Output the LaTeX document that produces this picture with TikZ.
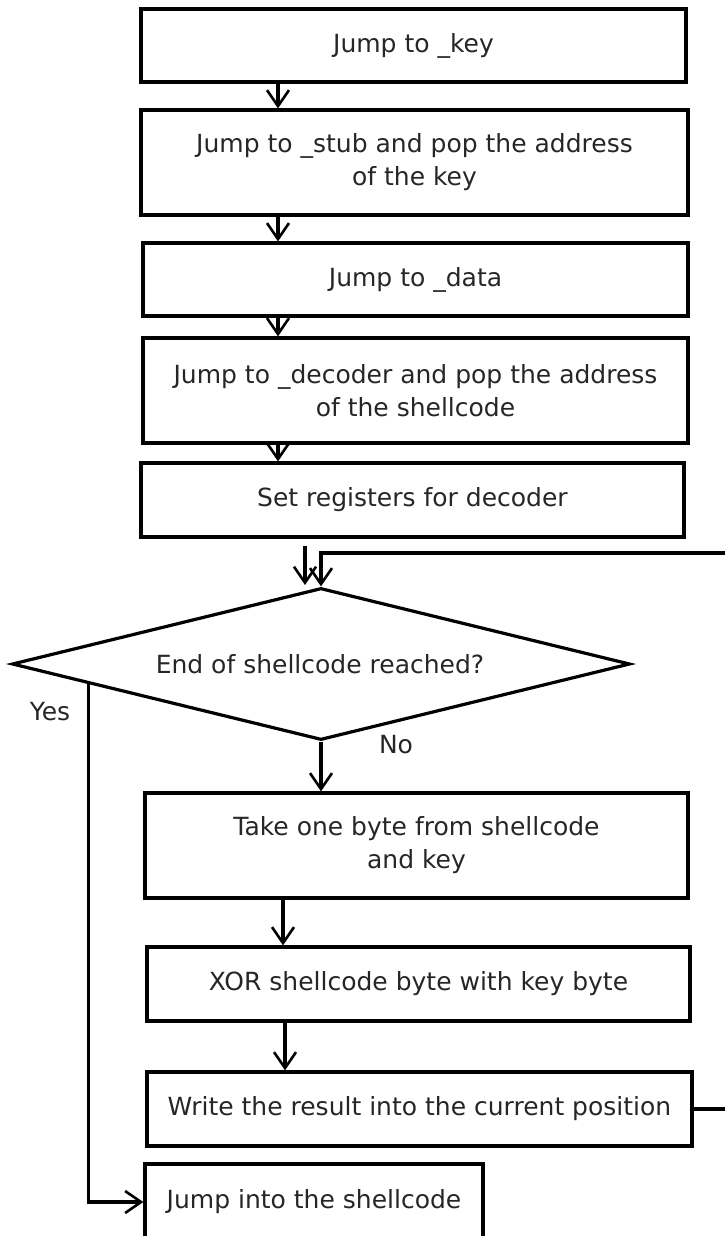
\documentclass[tikz,border=0pt]{standalone}
\usepackage{fontspec}
\setmainfont{DejaVu Sans}
\usetikzlibrary{arrows.meta,shapes.geometric,calc}

\tikzset{
  flowline/.style={line width=3.2pt, line join=miter},
  arr/.style={flowline, -{Straight Barb[length=16pt,width=22pt,line width=2.6pt]}},
  txt/.style={font=\fontsize{25}{33}\selectfont, text=black!85},
  stepbox/.style={draw, flowline, txt, rectangle, inner sep=0pt, align=center},
  decision/.style={draw, flowline, txt, diamond, inner sep=0pt, aspect=4.07},
}

\begin{document}
\begin{tikzpicture}[x=1pt, y=-1pt]
  \useasboundingbox (0,0) rectangle (725,1236);
  \clip (0,0) rectangle (725,1236);

  % process steps
  \node[stepbox, minimum width=545pt, minimum height=73pt]  (b1) at (413.5,45.5) {Jump to \_key};
  \node[stepbox, minimum width=547pt, minimum height=105pt] (b2) at (414.5,162.5)
    {Jump to \_stub and pop the address\\of the key};
  \node[stepbox, minimum width=545pt, minimum height=73pt]  (b3) at (415.5,279.5) {Jump to \_data};
  \node[stepbox, minimum width=545pt, minimum height=105pt] (b4) at (415.5,390.5)
    {Jump to \_decoder and pop the address\\of the shellcode};
  \node[stepbox, minimum width=543pt, minimum height=74pt]  (b5) at (412.5,500) {Set registers for decoder};

  % loop test
  \node[decision, minimum width=618pt, minimum height=152pt] (dia) at (321,664) {};
  \node[txt] (diatext) at (320,664) {End of shellcode reached?};

  % loop body
  \node[stepbox, minimum width=543pt, minimum height=105pt] (b6) at (416.5,845.5)
    {Take one byte from shellcode\\and key};
  \node[stepbox, minimum width=543pt, minimum height=74pt]  (b7) at (418.5,984) {XOR shellcode byte with key byte};
  \node[stepbox, minimum width=545pt, minimum height=74pt]  (b8) at (419.5,1109) {Write the result into the current position};
  \node[stepbox, minimum width=338pt, minimum height=76pt]  (b9) at (314,1202) {Jump into the shellcode};

  % branch labels
  \node[txt] (yeslbl) at (50,712) {Yes};
  \node[txt] (nolbl)  at (396,745) {No};

  % helper coordinates
  \coordinate (ax) at (278,0);
  \coordinate (s5) at (305,546);
  \coordinate (e5) at (305,585);
  \coordinate (loopR) at (745,553);
  \coordinate (yes) at ($(dia.west)!0.252!(dia.south)$);

  % straight sequence
  \draw[arr] (b1.south -| ax) -- (b2.north -| ax);
  \draw[arr] (b2.south -| ax) -- (b3.north -| ax);
  \draw[arr] (b3.south -| ax) -- (b4.north -| ax);
  \draw[arr] (b4.south -| ax) -- (b5.north -| ax);
  \draw[arr] (s5) -- (e5);

  % "No" branch and loop body
  \draw[arr] (dia.south) -- (dia.south |- b6.north);
  \draw[arr] ([xshift=-133.5pt]b6.south) -- ([xshift=-135.5pt]b7.north);
  \draw[arr] ([xshift=-133.5pt]b7.south) -- ([xshift=-134.5pt]b8.north);

  % back to the test
  \draw[arr] (b8.east) -- (b8.east -| loopR) -- (loopR) -- (loopR -| dia.north) -- (dia.north);

  % "Yes" branch
  \draw[arr] (yes) -- (yes |- b9.west) -- (b9.west);
\end{tikzpicture}
\end{document}
